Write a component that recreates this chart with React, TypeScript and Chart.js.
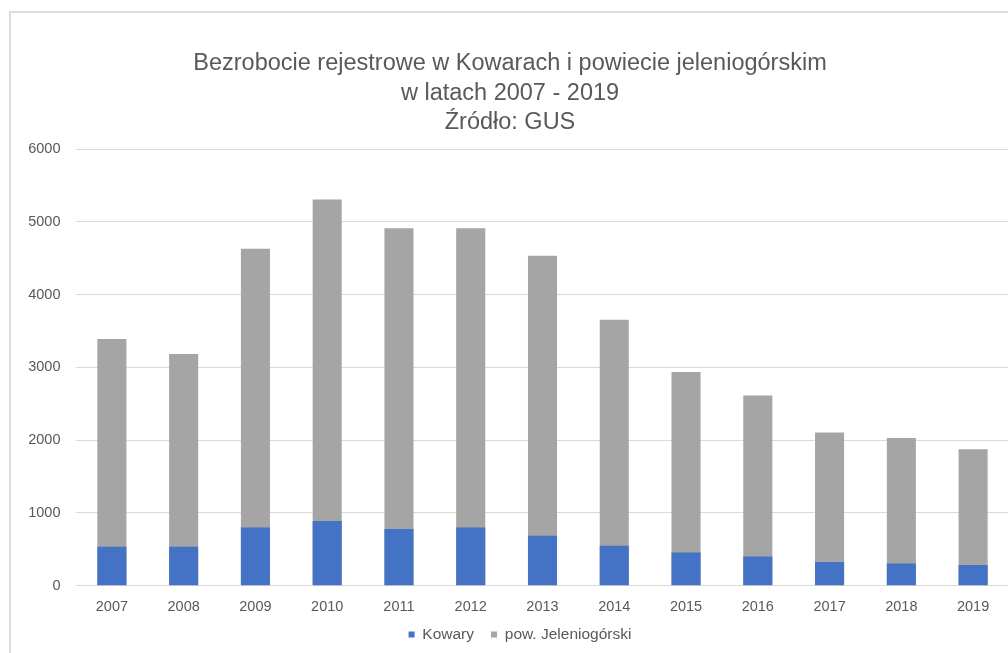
import React, { useEffect, useRef } from "react";
import { Chart, registerables } from "chart.js";

Chart.register(...registerables);

const years = ["2007", "2008", "2009", "2010", "2011", "2012", "2013", "2014", "2015", "2016", "2017", "2018", "2019"];
const kowary = [535, 535, 800, 890, 780, 800, 685, 550, 455, 400, 325, 305, 285];
const powiat = [3390, 3185, 4630, 5305, 4910, 4910, 4535, 3655, 2935, 2615, 2105, 2030, 1875];
const titleLines = ["Bezrobocie rejestrowe w Kowarach i powiecie jeleniogórskim", "w latach 2007 - 2019", "Źródło: GUS"];
const seriesNames = ["Kowary", "pow. Jeleniogórski"];

const FONT = "'Liberation Sans', Arial, sans-serif";
const TEXT = "#595959";

const legendNudge = {
  id: "legendNudge",
  afterLayout(chart: any) {
    const lg = chart.legend;
    if (!lg) return;
    lg.top -= 7;
    lg.bottom -= 7;
    lg.left += 10;
    lg.right += 10;
  },
};

export default function App() {
  const ref = useRef<HTMLCanvasElement | null>(null);

  useEffect(() => {
    if (!ref.current) return;
    const chart = new Chart(ref.current, {
      type: "bar",
      data: {
        labels: years,
        datasets: [
          { label: seriesNames[0], data: kowary, backgroundColor: "#4472c4", grouped: false, barPercentage: 0.405, categoryPercentage: 1 } as any,
          { label: seriesNames[1], data: powiat, backgroundColor: "#a5a5a5", grouped: false, barPercentage: 0.405, categoryPercentage: 1 } as any,
        ],
      },
      plugins: [legendNudge],
      options: {
        animation: false,
        responsive: false,
        maintainAspectRatio: false,
        layout: { padding: { top: 0, left: 0, right: 2, bottom: -6.2 } },
        plugins: {
          tooltip: { enabled: false },
          title: {
            display: true,
            text: titleLines,
            color: TEXT,
            font: { family: FONT, size: 23.5, weight: "normal", lineHeight: 1.25 },
            padding: { top: 36.3, bottom: 11.6 },
          },
          legend: {
            position: "bottom",
            labels: {
              color: TEXT,
              font: { family: FONT, size: 15.5 },
              boxWidth: 6,
              boxHeight: 6,
              padding: 17,
            },
          },
        },
        scales: {
          x: {
            grid: { display: false, drawTicks: false },
            border: { display: false },
            ticks: { color: TEXT, font: { family: FONT, size: 14.5 }, padding: 13, maxRotation: 0 },
            afterFit: (s: any) => { s.height = 31; },
          },
          y: {
            min: 0,
            max: 6000,
            ticks: {
              stepSize: 1000,
              color: TEXT,
              font: { family: FONT, size: 14.5 },
              padding: 15.5,
              callback: (v: any) => String(v),
            },
            grid: { color: "#d9d9d9", lineWidth: 1, drawTicks: false },
            border: { display: false },
            afterFit: (s: any) => { s.width = 65; },
          },
        },
      },
    });
    return () => chart.destroy();
  }, []);

  return (
    <div style={{ position: "fixed", left: 0, top: 0, width: 1008, height: 653, overflow: "hidden", background: "#fff" }}>
      <div style={{ position: "absolute", left: 9, top: 11, width: 1100, height: 700, borderLeft: "2px solid #dcdcdc", borderTop: "2px solid #dcdcdc" }} />
      <div style={{ position: "absolute", left: 11, top: 13, width: 1000, height: 640 }}>
        <canvas ref={ref} width={1000} height={640} style={{ display: "block", width: 1000, height: 640 }} />
      </div>
    </div>
  );
}
